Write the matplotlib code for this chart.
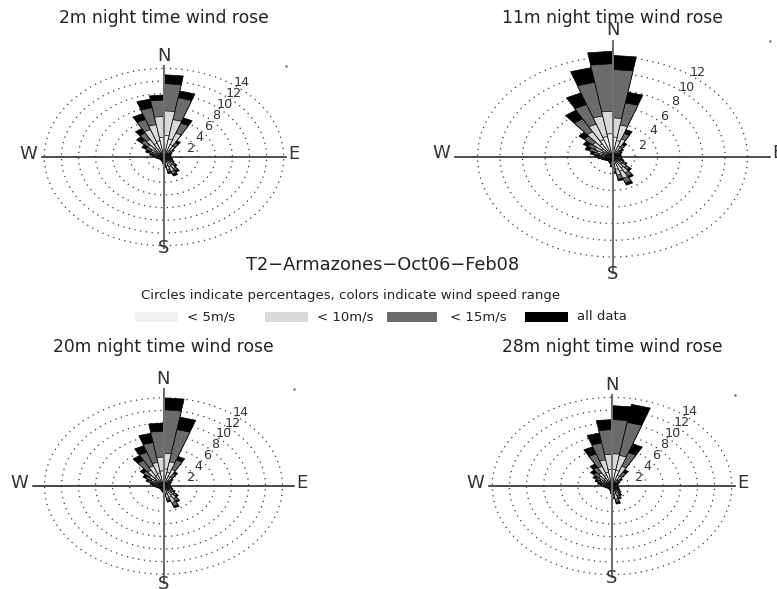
#!/usr/bin/python3

import numpy as np
import matplotlib
matplotlib.use('Agg')
import matplotlib.pyplot as plt
from matplotlib.patches import Rectangle

# wind direction sectors, start angle in degrees clockwise from north
sector_start = np.arange(0, 360, 10)

# percentages per sector (cumulative: <5m/s, <10m/s, <15m/s, all data)
h2_all = [13.0, 10.6, 6.6, 3.0, 1.6, 1.1, 0.9, 0.8, 0.8, 0.9, 1.0, 1.1, 1.4, 2.0, 2.8, 3.2, 2.7, 1.7,
          1.1, 0.8, 0.7, 0.6, 0.6, 0.6, 0.7, 0.8, 1.0, 1.3, 1.7, 2.3, 3.0, 4.2, 5.2, 7.3, 9.3, 9.8]
h2_15 = [11.6, 9.5, 5.7, 2.6, 1.4, 1.0, 0.8, 0.7, 0.7, 0.8, 0.9, 1.0, 1.3, 1.8, 2.5, 2.9, 2.4, 1.5,
         1.0, 0.7, 0.6, 0.5, 0.5, 0.5, 0.6, 0.7, 0.9, 1.1, 1.4, 1.9, 2.5, 3.5, 4.4, 6.3, 7.9, 9.0]
h2_10 = [7.3, 6.0, 4.0, 2.0, 1.1, 0.8, 0.6, 0.6, 0.6, 0.6, 0.7, 0.8, 1.1, 1.5, 2.1, 2.4, 2.0, 1.2,
         0.8, 0.6, 0.5, 0.4, 0.4, 0.4, 0.5, 0.5, 0.7, 0.8, 1.0, 1.4, 1.8, 2.5, 3.2, 4.6, 5.2, 6.4]
h2_5 = [3.4, 2.9, 2.1, 1.2, 0.7, 0.5, 0.4, 0.4, 0.4, 0.4, 0.5, 0.6, 0.8, 1.1, 1.5, 1.7, 1.4, 0.9,
        0.6, 0.4, 0.3, 0.3, 0.3, 0.3, 0.3, 0.4, 0.5, 0.5, 0.6, 0.8, 1.0, 1.3, 1.7, 2.3, 2.6, 3.1]

h11_all = [12.2, 7.9, 3.5, 2.0, 1.3, 1.0, 0.8, 0.8, 0.8, 0.8, 0.9, 1.1, 1.5, 2.2, 2.9, 3.6, 2.9, 2.0,
           1.2, 0.8, 0.7, 0.6, 0.6, 0.7, 0.8, 1.0, 1.3, 1.6, 2.0, 2.6, 3.0, 3.9, 6.5, 8.2, 10.9, 12.7]
h11_15 = [10.5, 6.6, 3.0, 1.7, 1.1, 0.9, 0.7, 0.7, 0.7, 0.7, 0.8, 1.0, 1.4, 2.0, 2.7, 3.3, 2.7, 1.8,
          1.1, 0.7, 0.6, 0.5, 0.5, 0.6, 0.7, 0.9, 1.1, 1.3, 1.7, 2.2, 2.5, 3.3, 5.3, 6.7, 9.1, 11.2]
h11_10 = [4.7, 3.9, 2.3, 1.3, 0.9, 0.7, 0.6, 0.6, 0.6, 0.6, 0.7, 0.8, 1.1, 1.6, 2.2, 2.7, 2.2, 1.4,
          0.9, 0.6, 0.5, 0.4, 0.4, 0.5, 0.5, 0.7, 0.8, 1.0, 1.2, 1.5, 1.8, 2.3, 3.5, 4.2, 5.0, 5.5]
h11_5 = [2.4, 2.0, 1.4, 0.9, 0.6, 0.5, 0.4, 0.4, 0.4, 0.4, 0.5, 0.6, 0.8, 1.1, 1.5, 1.8, 1.5, 1.0,
         0.6, 0.4, 0.3, 0.3, 0.3, 0.3, 0.4, 0.4, 0.5, 0.6, 0.7, 0.9, 1.0, 1.3, 1.8, 2.2, 2.5, 2.8]

h20_all = [14.0, 11.1, 5.0, 2.6, 1.5, 1.1, 0.9, 0.8, 0.8, 0.9, 1.0, 1.2, 1.6, 2.3, 3.0, 3.7, 2.6, 1.6,
           1.0, 0.8, 0.7, 0.6, 0.6, 0.6, 0.7, 0.8, 1.0, 1.3, 1.6, 2.2, 2.8, 3.6, 5.6, 6.8, 8.5, 10.0]
h20_15 = [12.1, 9.1, 4.4, 2.3, 1.3, 1.0, 0.8, 0.7, 0.7, 0.8, 0.9, 1.1, 1.5, 2.1, 2.8, 3.4, 2.4, 1.4,
          0.9, 0.7, 0.6, 0.5, 0.5, 0.5, 0.6, 0.7, 0.9, 1.1, 1.4, 1.9, 2.4, 3.1, 4.7, 5.7, 7.0, 8.7]
h20_10 = [5.2, 3.9, 2.8, 1.6, 1.0, 0.8, 0.6, 0.6, 0.6, 0.6, 0.7, 0.9, 1.2, 1.7, 2.3, 2.8, 2.0, 1.1,
          0.7, 0.5, 0.5, 0.4, 0.4, 0.4, 0.5, 0.5, 0.7, 0.8, 1.0, 1.3, 1.7, 2.2, 2.9, 3.4, 3.8, 4.6]
h20_5 = [2.7, 2.2, 1.6, 1.0, 0.6, 0.5, 0.4, 0.4, 0.4, 0.4, 0.5, 0.6, 0.8, 1.1, 1.6, 1.9, 1.3, 0.8,
         0.5, 0.4, 0.3, 0.3, 0.3, 0.3, 0.3, 0.4, 0.5, 0.5, 0.6, 0.8, 1.0, 1.3, 1.6, 1.9, 2.1, 2.4]

h28_all = [12.7, 13.1, 7.1, 3.0, 1.6, 1.1, 0.8, 0.7, 0.7, 0.7, 0.8, 0.9, 1.1, 1.4, 1.8, 2.2, 2.9, 2.0,
           1.2, 0.8, 0.6, 0.6, 0.6, 0.6, 0.7, 0.8, 1.0, 1.3, 1.7, 2.1, 2.6, 3.3, 4.0, 6.6, 8.5, 10.5]
h28_15 = [10.5, 10.2, 5.6, 2.5, 1.4, 1.0, 0.7, 0.6, 0.6, 0.6, 0.7, 0.8, 1.0, 1.3, 1.6, 2.0, 2.6, 1.8,
          1.1, 0.7, 0.5, 0.5, 0.5, 0.5, 0.6, 0.7, 0.9, 1.1, 1.4, 1.8, 2.2, 2.8, 3.4, 5.4, 6.9, 8.9]
h28_10 = [5.1, 4.9, 3.3, 1.8, 1.0, 0.7, 0.5, 0.5, 0.5, 0.5, 0.5, 0.6, 0.8, 1.0, 1.3, 1.6, 2.1, 1.4,
          0.8, 0.5, 0.4, 0.4, 0.4, 0.4, 0.5, 0.5, 0.7, 0.8, 1.0, 1.3, 1.6, 2.0, 2.4, 3.3, 4.2, 5.0]
h28_5 = [2.6, 2.5, 1.8, 1.1, 0.6, 0.4, 0.3, 0.3, 0.3, 0.3, 0.3, 0.4, 0.5, 0.6, 0.8, 1.0, 1.3, 0.9,
         0.5, 0.3, 0.3, 0.3, 0.3, 0.3, 0.3, 0.3, 0.4, 0.5, 0.6, 0.8, 1.0, 1.2, 1.4, 1.8, 2.2, 2.6]

titles = ['2m night time wind rose', '11m night time wind rose',
          '20m night time wind rose', '28m night time wind rose']
ring_max = [14, 12, 14, 14]
speed_labels = ['< 5m/s', '< 10m/s', '< 15m/s', 'all data']

# fill colours, drawn from the outermost (all data) inwards
colors = ['black', '#6b6b6b', '#d9d9d9', '#f1f1f1']

FIG_W, FIG_H = 777, 589


def draw_rose(ax, levels, rmax):
	''' draw one wind rose in percent units '''
	ext = 1.1 * max(levels[0])

	# dotted percentage circles (stretched to ellipses by the axes)
	t = np.linspace(0, 2 * np.pi, 400)
	for r in range(2, rmax + 1, 2):
		ax.plot(r * np.sin(t), r * np.cos(t), color='#3a3a3a', lw=0.9,
			ls=(0, (1, 3.6)), zorder=1)
		a = np.radians(30)
		ax.annotate(str(r), xy=(r * np.sin(a), r * np.cos(a)), xytext=(18, -2.5),
			textcoords='offset pixels', ha='center', va='center',
			fontsize=9.2, color='#333333', zorder=5)

	# stacked sectors
	for vals, col in zip(levels, colors):
		for start, r in zip(sector_start, vals):
			t1, t2 = np.radians(start), np.radians(start + 10)
			ax.fill([0, r * np.sin(t1), r * np.sin(t2)],
				[0, r * np.cos(t1), r * np.cos(t2)],
				facecolor=col, edgecolor='black', lw=0.5, zorder=2)

	# compass lines
	ax.plot([-ext, ext], [0, 0], color='#1a1a1a', lw=1.1, zorder=3)
	ax.plot([0, 0], [-ext, ext], color='#707070', lw=1.5, zorder=3)
	ax.plot([ext], [ext], marker='.', ms=1.5, color='#666666')

	lab = dict(fontsize=13, color='#333333', clip_on=False)
	ax.text(0, ext + 0.2, 'N', ha='center', va='bottom', **lab)
	ax.text(0, -ext - 0.1, 'S', ha='center', va='center', **lab)
	ax.text(-ext - 0.5, 0.5, 'W', ha='right', va='center', **lab)
	ax.text(ext + 0.2, 0.5, 'E', ha='left', va='center', **lab)


def main():
	''' main function'''

	fig = plt.figure(figsize=(FIG_W / 100, FIG_H / 100), dpi=100)

	data = [[h2_all, h2_15, h2_10, h2_5],
		[h11_all, h11_15, h11_10, h11_5],
		[h20_all, h20_15, h20_10, h20_5],
		[h28_all, h28_15, h28_10, h28_5]]

	# panel centres and scale in pixels per percent (x, y)
	centres = [(164, 157), (612.5, 157), (163.5, 486), (612, 486)]
	scales = [(8.55, 6.33), (11.25, 8.33), (8.5, 6.3), (8.55, 6.33)]

	hw, hh = 175, 135
	for i in range(4):
		cx, cy = centres[i]
		sx, sy = scales[i]
		ax = fig.add_axes([(cx - hw) / FIG_W, 1 - (cy + hh) / FIG_H,
			2 * hw / FIG_W, 2 * hh / FIG_H])
		ax.set_xlim(-hw / sx, hw / sx)
		ax.set_ylim(-hh / sy, hh / sy)
		ax.axis('off')
		draw_rose(ax, data[i], ring_max[i])
		fig.text(cx / FIG_W, 1 - (cy - 139) / FIG_H, titles[i], ha='center',
			va='center', fontsize=12.3, color='#222222')

	# overall title and legend
	fig.text(383 / FIG_W, 1 - 265 / FIG_H, 'T2\u2212Armazones\u2212Oct06\u2212Feb08',
		ha='center', va='center', fontsize=12.8, color='#222222')
	fig.text(351 / FIG_W, 1 - 296 / FIG_H,
		'Circles indicate percentages, colors indicate wind speed range',
		ha='center', va='center', fontsize=9.5, color='#222222')

	sw_x = [135, 265, 387, 525]
	sw_w = [43, 43, 50, 43]
	txt_x = [187, 317, 450, 577]
	for k in range(4):
		fig.add_artist(Rectangle((sw_x[k] / FIG_W, 1 - 322 / FIG_H),
			sw_w[k] / FIG_W, 10 / FIG_H, transform=fig.transFigure,
			facecolor=colors[3 - k], edgecolor='none'))
		fig.text(txt_x[k] / FIG_W, 1 - 317 / FIG_H, speed_labels[k],
			ha='left', va='center', fontsize=9.5, color='#222222')

	plt.savefig('out.png', dpi=100)
	plt.close()


if __name__ == '__main__':
	main()
